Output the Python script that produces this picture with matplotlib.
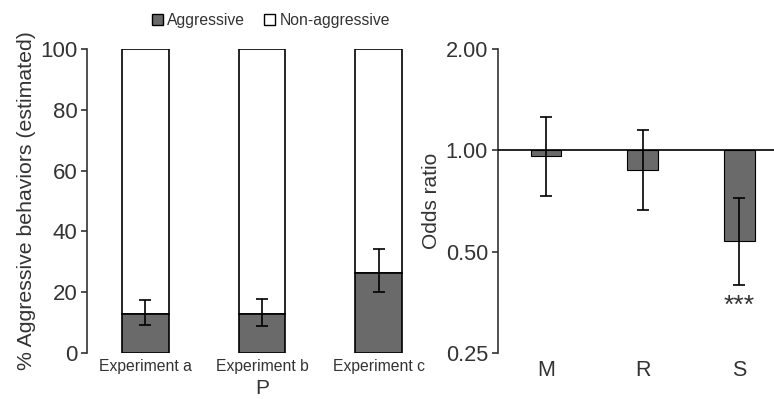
import numpy as np
import matplotlib
matplotlib.use('Agg')
import matplotlib.pyplot as plt
from matplotlib.patches import Patch

plt.rcParams['font.family'] = ['Liberation Sans', 'DejaVu Sans']

# left panel: estimated % aggressive behaviours
experiments = ['Experiment a', 'Experiment b', 'Experiment c']
aggressive = [12.7, 12.7, 26.4]
err_low = [9.2, 9.0, 20.0]
err_high = [17.3, 17.7, 34.3]

# right panel: odds ratios
factors = ['M', 'R', 'S']
odds = [0.96, 0.876, 0.538]
odds_low = [0.73, 0.666, 0.398]
odds_high = [1.26, 1.15, 0.721]
signif = ['', '', '***']

gray = '#6a6a6a'
txt = '#333333'

fig = plt.figure(figsize=(7.74, 3.99), dpi=100)
ax1 = fig.add_axes([0.1124, 0.1153, 0.452, 0.7619])
ax2 = fig.add_axes([0.643, 0.1153, 0.357, 0.7619])

x = np.arange(len(experiments))
agg = np.array(aggressive)
ax1.bar(x, 100 - agg, bottom=agg, width=0.4, color='white', edgecolor='black', linewidth=1.2, zorder=2)
ax1.bar(x, agg, width=0.4, color=gray, edgecolor='black', linewidth=1.2, zorder=3)
ax1.errorbar(x, agg, yerr=[agg - np.array(err_low), np.array(err_high) - agg],
             fmt='none', ecolor='black', elinewidth=1.2, capsize=4, capthick=1.2, zorder=4)
ax1.set_xlim(-0.5, 2.5)
ax1.set_ylim(0, 100)
ax1.set_yticks([0, 20, 40, 60, 80, 100])
ax1.set_xticks(x)
ax1.set_xticklabels(experiments, fontsize=11.3, color=txt)
ax1.set_xlabel('P', fontsize=15, color=txt, labelpad=4)
ax1.set_ylabel('% Aggressive behaviors (estimated)', fontsize=15.3, color=txt, labelpad=3)
ax1.tick_params(axis='y', labelsize=16, labelcolor=txt, length=4, width=1.2, color=txt, pad=3)
ax1.tick_params(axis='x', length=0, pad=4)
for s in ['top', 'right', 'bottom']:
    ax1.spines[s].set_visible(False)
ax1.spines['left'].set_linewidth(1.2)
ax1.spines['left'].set_color(txt)

handles = [Patch(facecolor=gray, edgecolor='black', label='Aggressive'),
           Patch(facecolor='white', edgecolor='black', label='Non-aggressive')]
fig.legend(handles=handles, loc='center', bbox_to_anchor=(0.35, 0.948), ncol=2, frameon=False,
           fontsize=11.3, handlelength=0.7, handleheight=0.7, handletextpad=0.3, columnspacing=1.2,
           labelcolor=txt)

x2 = np.arange(len(factors))
od = np.array(odds)
ax2.set_yscale('log', base=2)
ax2.bar(x2, od - 1, bottom=1, width=0.32, color=gray, edgecolor='black', linewidth=0.8, zorder=2)
ax2.errorbar(x2, od, yerr=[od - np.array(odds_low), np.array(odds_high) - od],
             fmt='none', ecolor='black', elinewidth=1.2, capsize=4, capthick=1.2, zorder=4)
ax2.axhline(1, color='black', linewidth=1.2, zorder=3)
for xi, lo, s in zip(x2, odds_low, signif):
    if s:
        ax2.text(xi, lo * 0.94, s, ha='center', va='top', fontsize=19, color=txt)
ax2.set_xlim(-0.5, 2.36)
ax2.set_ylim(0.25, 2)
ax2.set_yticks([0.25, 0.5, 1, 2])
ax2.set_yticklabels(['0.25', '0.50', '1.00', '2.00'])
ax2.minorticks_off()
ax2.set_xticks(x2)
ax2.set_xticklabels(factors, fontsize=15.5, color=txt)
ax2.set_ylabel('Odds ratio', fontsize=15, color=txt, labelpad=3)
ax2.tick_params(axis='y', labelsize=15.7, labelcolor=txt, length=4, width=1.2, color=txt, pad=3)
ax2.tick_params(axis='x', length=0, pad=5)
for s in ['top', 'right', 'bottom']:
    ax2.spines[s].set_visible(False)
ax2.spines['left'].set_linewidth(1.2)
ax2.spines['left'].set_color(txt)

fig.savefig('out.png', dpi=100)
